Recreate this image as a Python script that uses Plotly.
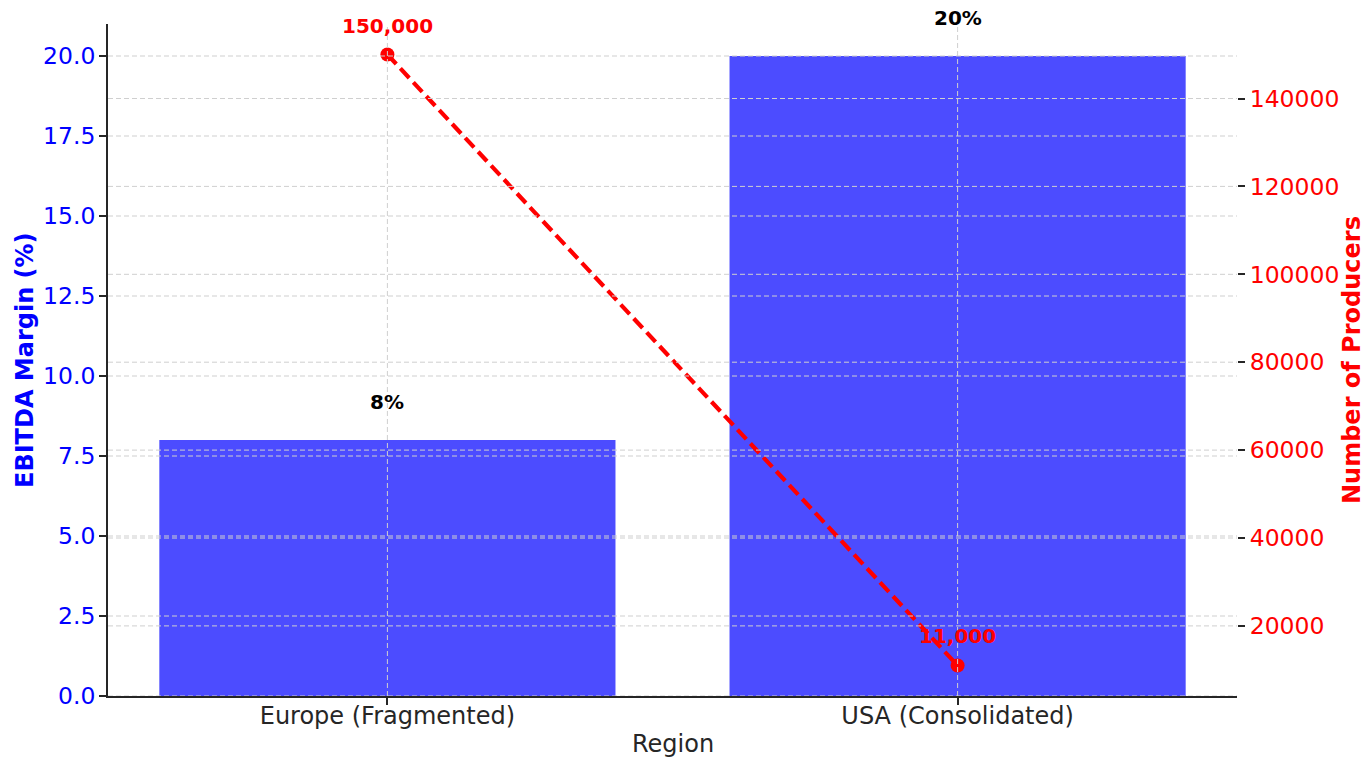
import numpy as np
import plotly.graph_objects as go

# Data
regions = ["Europe (Fragmented)", "USA (Consolidated)"]
ebitda_margin = [8, 20]            # %
producers = [150000, 11000]        # number of producers
margin_labels = ["8%", "20%"]
producer_labels = ["150,000", "11,000"]

FONT = "DejaVu Sans"
GRID = "#cfcfcf"
DARK = "#262626"

fig = go.Figure()

fig.add_trace(go.Bar(
    x=regions, y=ebitda_margin, width=0.8,
    marker=dict(color="rgba(0,0,255,0.7)", line=dict(width=0)),
    name="EBITDA Margin (%)", yaxis="y",
))

fig.add_trace(go.Scatter(
    x=regions, y=producers, yaxis="y2",
    mode="lines+markers",
    line=dict(color="#ff0000", width=4.2, dash="13px,6px"),
    marker=dict(color="#ff0000", size=14),
    name="Number of Producers",
))

# Value labels
annotations = []
for r, v, t in zip(regions, ebitda_margin, margin_labels):
    annotations.append(dict(x=r, y=v, xref="x", yref="y", text=f"<b>{t}</b>",
                            showarrow=False, yshift=38,
                            font=dict(family=FONT, size=20, color="black")))
for r, v, t in zip(regions, producers, producer_labels):
    annotations.append(dict(x=r, y=v, xref="x", yref="y2", text=f"<b>{t}</b>",
                            showarrow=False, yshift=29,
                            font=dict(family=FONT, size=20, color="#ff0000")))

# Axis titles
annotations += [
    dict(text="Region", xref="paper", yref="paper", x=0.5, y=0, yshift=-48,
         showarrow=False, xanchor="center", yanchor="middle",
         font=dict(family=FONT, size=24, color=DARK)),
    dict(text="<b>EBITDA Margin (%)</b>", xref="paper", yref="paper", x=0, y=0.5,
         xshift=-83, showarrow=False, textangle=-90, xanchor="center", yanchor="middle",
         font=dict(family=FONT, size=24, color="#0000ff")),
    dict(text="<b>Number of Producers</b>", xref="paper", yref="paper", x=1, y=0.5,
         xshift=115, showarrow=False, textangle=-90, xanchor="center", yanchor="middle",
         font=dict(family=FONT, size=24, color="#ff0000")),
]

# Dashed grid lines drawn over the bars
shapes = []
grid_line = dict(color=GRID, width=1, dash="5px,3px")
for v in np.arange(0, 20.01, 2.5):
    shapes.append(dict(type="line", xref="paper", yref="y", x0=0, x1=1, y0=v, y1=v,
                       line=grid_line, layer="above"))
for v in np.arange(20000, 140001, 20000):
    shapes.append(dict(type="line", xref="paper", yref="y2", x0=0, x1=1, y0=v, y1=v,
                       line=grid_line, layer="above"))
for r in regions:
    shapes.append(dict(type="line", xref="x", yref="paper", x0=r, x1=r, y0=0, y1=1,
                       line=grid_line, layer="above"))

fig.update_layout(
    width=1366, height=758,
    margin=dict(l=108, r=129, t=24, b=62, autoexpand=False),
    plot_bgcolor="white", paper_bgcolor="white",
    showlegend=False,
    font=dict(family=FONT, size=20, color=DARK),
    xaxis=dict(
        range=[-0.49, 1.49], showgrid=False, zeroline=False, automargin=False,
        showline=True, linecolor=DARK, linewidth=1.8,
        ticks="outside", ticklen=7, tickwidth=1.5, tickcolor=DARK,
        ticklabelstandoff=-10,
        tickfont=dict(family=FONT, size=24, color=DARK),
    ),
    yaxis=dict(
        range=[0, 21], tick0=0, dtick=2.5, tickformat=".1f",
        showgrid=False, zeroline=False, automargin=False,
        showline=True, linecolor=DARK, linewidth=1.8,
        ticks="outside", ticklen=7, tickwidth=1.5, tickcolor=DARK,
        ticklabelstandoff=-1,
        tickfont=dict(family=FONT, size=23.5, color="#0000ff"),
    ),
    yaxis2=dict(
        overlaying="y", side="right", anchor="x",
        range=[4050, 156950], tick0=0, dtick=20000, tickformat="d",
        showgrid=False, zeroline=False, showline=False, automargin=False,
        ticks="outside", ticklen=7, tickwidth=1.5, tickcolor=DARK,
        ticklabelstandoff=0,
        tickfont=dict(family=FONT, size=23.5, color="#ff0000"),
    ),
    annotations=annotations,
    shapes=shapes,
)

fig.write_html("out.html")
